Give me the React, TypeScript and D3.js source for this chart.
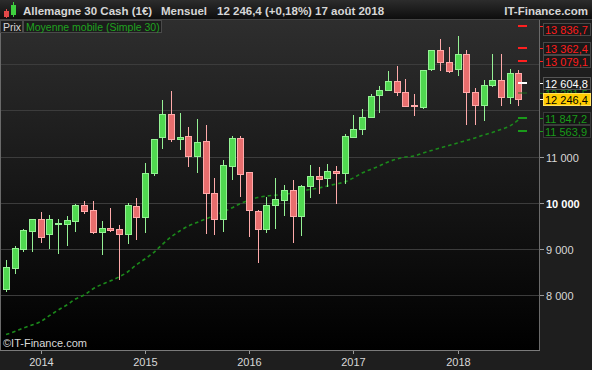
import * as d3 from "d3";

// monthly candles, Sep 2013 -> Aug 2018
const months = [
  "2013-09", "2013-10", "2013-11", "2013-12",
  "2014-01", "2014-02", "2014-03", "2014-04", "2014-05", "2014-06", "2014-07", "2014-08", "2014-09", "2014-10", "2014-11", "2014-12",
  "2015-01", "2015-02", "2015-03", "2015-04", "2015-05", "2015-06", "2015-07", "2015-08", "2015-09", "2015-10", "2015-11", "2015-12",
  "2016-01", "2016-02", "2016-03", "2016-04", "2016-05", "2016-06", "2016-07", "2016-08", "2016-09", "2016-10", "2016-11", "2016-12",
  "2017-01", "2017-02", "2017-03", "2017-04", "2017-05", "2017-06", "2017-07", "2017-08", "2017-09", "2017-10", "2017-11", "2017-12",
  "2018-01", "2018-02", "2018-03", "2018-04", "2018-05", "2018-06", "2018-07", "2018-08",
];
const opens = [
  8143, 8597, 9009, 9398,
  9645, 9320, 9550, 9550, 9615, 9948, 9840, 9377, 9463, 9428, 9320, 9926,
  9688, 10641, 11420, 11918, 11390, 11441, 11009, 11333, 10208, 9645, 10792, 11398,
  10662, 9818, 9428, 9948, 10056, 10273, 9710, 10359, 10576, 10532, 10684, 10641,
  11420, 11593, 11853, 12329, 12437, 12632, 12394, 12110, 12069, 12892, 13303, 13043,
  12892, 13216, 12394, 12113, 12545, 12654, 12286, 12805,
];
const highs = [
  8764, 9067, 9435, 9645,
  9803, 9738, 9645, 9716, 9976, 10035, 10035, 9602, 9883, 9515, 9991, 10100,
  10857, 11377, 12227, 12422, 11946, 11636, 11810, 11680, 10532, 10922, 11441, 11441,
  10662, 9840, 10121, 10532, 10387, 10489, 10380, 10820, 10777, 10842, 10799, 11485,
  11903, 12026, 12351, 12524, 12848, 12957, 12675, 12351, 12870, 13303, 13548, 13368,
  13612, 13303, 12481, 12654, 13216, 13216, 12892, 12870,
];
const lows = [
  8078, 8461, 8944, 8944,
  9139, 9009, 8900, 9074, 9377, 9753, 9333, 8879, 9360, 8338, 9117, 9203,
  9355, 10589, 11173, 11325, 11145, 10784, 10641, 9320, 9299, 9377, 10489, 10121,
  9255, 8693, 9342, 9428, 9723, 9139, 9290, 10100, 10186, 10338, 9970, 10403,
  11420, 11470, 11831, 11939, 12415, 12307, 12070, 11874, 12026, 12848, 12848, 12805,
  12740, 11693, 11693, 11780, 12502, 12104, 12130, 12104,
];
const closes = [
  8606, 9017, 9407, 9645,
  9268, 9645, 9570, 9623, 9948, 9831, 9377, 9450, 9420, 9320, 9948, 9688,
  10641, 11377, 11918, 11390, 11425, 11009, 11312, 10208, 9645, 10814, 11398, 10619,
  9840, 9428, 9948, 10078, 10273, 9710, 10359, 10576, 10511, 10684, 10641, 11441,
  11593, 11853, 12307, 12437, 12632, 12394, 12091, 12091, 12870, 13303, 13043, 12848,
  13216, 12394, 12113, 12545, 12654, 12286, 12805, 12246.4,
];
// moyenne mobile simple 30
const ma30 = [
  7151, 7216, 7292, 7357,
  7433, 7560, 7680, 7790, 7920, 8006, 8136, 8234, 8310, 8396, 8504, 8656,
  8786, 8926, 9100, 9262, 9392, 9500, 9576, 9652, 9727, 9803, 9890, 9987,
  10063, 10117, 10149, 10165, 10182, 10214, 10247, 10290, 10323, 10366, 10409, 10452,
  10539, 10647, 10723, 10799, 10885, 10950, 10994, 11015, 11080, 11134, 11188, 11242,
  11297, 11351, 11405, 11470, 11524, 11589, 11664, 11794,
];

const yearTicks = ["2014-01", "2015-01", "2016-01", "2017-01", "2018-01"];
const gridValues = [8000, 9000, 10000, 11000, 12000, 13000];
const axisValues = [8000, 9000, 10000, 11000];
const axisLabels = ["8 000", "9 000", "10 000", "11 000"];

const levelValues = [12381.5, 13836.7, 13362.4, 13079.1, 12604.8, 12246.4, 11847.2, 11563.9];
const levelLabels = ["12 381,5", "13 836,7", "13 362,4", "13 079,1", "12 604,8", "12 246,4", "11 847,2", "11 563,9"];
const levelKinds = ["pivot", "res", "res", "res", "last", "close", "sup", "sup"];

const W = 592;
const H = 370;
const plotL = 1;
const plotR = 539;
const plotT = 20;
const plotB = 350;
const FONT = "'Liberation Sans', Arial, sans-serif";

const UP_FILL = "#50d850";
const UP_LINE = "#95f295";
const DN_FILL = "#e86e6e";
const DN_LINE = "#ffaaaa";

const levelStyle: Record<string, { text: string; bg: string; border: string; mark: string; markW: number }> = {
  res: { text: "#ff1c1c", bg: "#191919", border: "#484848", mark: "#ff2020", markW: 2 },
  last: { text: "#ffffff", bg: "#1f1f1f", border: "#555555", mark: "#ffffff", markW: 2 },
  pivot: { text: "#1d8f1d", bg: "#161616", border: "#3a3a3a", mark: "#1d6f1d", markW: 1 },
  close: { text: "#000000", bg: "#ffcc00", border: "#ffe060", mark: "#ffffff", markW: 1 },
  sup: { text: "#1a9a1a", bg: "#141414", border: "#3a3a3a", mark: "#1a9a1a", markW: 2 },
};

function Candles({ x, y }: { x: d3.ScalePoint<string>; y: d3.ScaleLinear<number, number> }) {
  return (
    <g>
      {months.map((m, i) => {
        const cx = Math.round(x(m) ?? 0);
        const up = closes[i] >= opens[i];
        const top = Math.round(y(Math.max(opens[i], closes[i])));
        const bot = Math.round(y(Math.min(opens[i], closes[i])));
        const h = Math.max(bot - top, 0);
        return (
          <g key={m}>
            <line
              x1={cx + 0.5}
              x2={cx + 0.5}
              y1={Math.round(y(highs[i]))}
              y2={Math.round(y(lows[i]))}
              stroke={up ? UP_LINE : DN_LINE}
              strokeWidth={1}
            />
            <rect
              x={cx - 3 + 0.5}
              y={top + 0.5}
              width={6}
              height={h}
              fill={up ? UP_FILL : DN_FILL}
              stroke={up ? UP_LINE : DN_LINE}
              strokeWidth={1}
            />
          </g>
        );
      })}
    </g>
  );
}

export default function App() {
  const x = d3.scalePoint<string>().domain(months).range([6, 518.3]);
  const y = d3.scaleLinear().domain([8000, 13000]).range([295.3, 64.3]);

  const maLine = d3
    .line<number>()
    .x((_, i) => x(months[i]) ?? 0)
    .y((d) => y(d))
    .curve(d3.curveMonotoneX);

  return (
    <div style={{ position: "absolute", left: 0, top: 0 }}>
      <svg width={W} height={H} style={{ display: "block", fontFamily: FONT }}>
        <defs>
          <linearGradient id="plotBg" x1="0" y1="0" x2="0" y2="1">
            <stop offset="0%" stopColor="#2e2e2e" />
            <stop offset="100%" stopColor="#000000" />
          </linearGradient>
          <linearGradient id="headBg" x1="0" y1="0" x2="0" y2="1">
            <stop offset="0%" stopColor="#2c2c2c" />
            <stop offset="100%" stopColor="#0c0c0c" />
          </linearGradient>
          <clipPath id="plotClip">
            <rect x={plotL} y={plotT} width={plotR - plotL} height={plotB - plotT} />
          </clipPath>
        </defs>

        {/* panels */}
        <rect x={0} y={0} width={W} height={H} fill="#1e1e1e" />
        <rect x={plotL} y={plotT} width={plotR - plotL} height={plotB - plotT} fill="url(#plotBg)" />

        {/* grid */}
        {gridValues.map((v) => (
          <line key={v} x1={plotL} x2={plotR} y1={Math.round(y(v)) + 0.5} y2={Math.round(y(v)) + 0.5} stroke="#3c3c3c" />
        ))}

        <g clipPath="url(#plotClip)">
          <path d={maLine(ma30) ?? ""} fill="none" stroke="#1b8a1b" strokeWidth={1.6} strokeDasharray="3.5,3" />
          <Candles x={x} y={y} />
          {/* level markers */}
          {levelValues.map((v, i) => {
            const s = levelStyle[levelKinds[i]];
            if (levelKinds[i] === "close") return null;
            return (
              <rect key={i} x={518} y={Math.round(y(v)) - s.markW / 2} width={9} height={s.markW} fill={s.mark} />
            );
          })}
        </g>

        {/* borders */}
        <line x1={plotL - 0.5} x2={plotL - 0.5} y1={plotT} y2={plotB} stroke="#6a6a6a" />
        <line x1={plotR + 0.5} x2={plotR + 0.5} y1={plotT} y2={plotB} stroke="#6a6a6a" />
        <line x1={0} x2={plotR + 1} y1={plotB + 0.5} y2={plotB + 0.5} stroke="#7a7a7a" />

        <text x={3} y={347} fontSize={11} fill="#d8d8d8">
          ©IT-Finance.com
        </text>

        {/* x axis */}
        {yearTicks.map((m) => {
          const px = Math.round(x(m) ?? 0) + 0.5;
          return (
            <g key={m}>
              <line x1={px} x2={px} y1={plotB + 1} y2={plotB + 4} stroke="#9a9a9a" />
              <text x={px} y={366} fontSize={11} fill="#d8d8d8" textAnchor="middle">
                {m.slice(0, 4)}
              </text>
            </g>
          );
        })}

        {/* y axis */}
        {axisValues.map((v, i) => {
          const py = Math.round(y(v)) + 0.5;
          return (
            <g key={v}>
              <line x1={plotR + 1} x2={plotR + 5} y1={py} y2={py} stroke="#9a9a9a" />
              <text
                x={546}
                y={py + 4}
                fontSize={11}
                fill={v === 10000 ? "#ffffff" : "#d8d8d8"}
                fontWeight={v === 10000 ? "bold" : "normal"}
              >
                {axisLabels[i]}
              </text>
            </g>
          );
        })}

        {/* level labels */}
        {levelValues.map((v, i) => {
          const s = levelStyle[levelKinds[i]];
          const vy = y(v);
          const ly = Math.max(vy, 29);
          return (
            <g key={levelLabels[i]}>
              <line x1={plotR + 1} x2={plotR + 5} y1={Math.round(vy) + 0.5} y2={Math.round(vy) + 0.5} stroke={s.mark} />
              <rect x={543.5} y={Math.round(ly) - 5.5} width={47} height={12} fill={s.bg} stroke={s.border} />
              <text x={545} y={Math.round(ly) + 4.5} fontSize={11} fill={s.text}>
                {levelLabels[i]}
              </text>
            </g>
          );
        })}

        {/* header */}
        <rect x={0} y={0} width={W} height={20} fill="url(#headBg)" />
        <line x1={0} x2={W} y1={19.5} y2={19.5} stroke="#444" />
        <line x1={6.5} x2={6.5} y1={9} y2={18} stroke="#e04848" />
        <rect x={4} y={11} width={5} height={6} fill="#e04848" />
        <line x1={13.5} x2={13.5} y1={2} y2={17} stroke="#3fcf3f" />
        <rect x={11} y={5} width={5} height={10} fill="#3fcf3f" />
        <g fontSize={11.5} fontWeight="bold" fill="#d6d6d6">
          <text x={23} y={15}>Allemagne 30 Cash (1€)</text>
          <text x={161} y={15}>Mensuel</text>
          <text x={217} y={15}>12 246,4 (+0,18%)</text>
          <text x={315} y={15}>17 août 2018</text>
          <text x={588} y={15} textAnchor="end">IT-Finance.com</text>
        </g>

        {/* legend */}
        <rect x={0.5} y={20.5} width={22} height={12} fill="#1c1c1c" stroke="#4a4a4a" />
        <text x={3} y={30.5} fontSize={10.5} fill="#d8d8d8">Prix</text>
        <rect x={23.5} y={20.5} width={138} height={12} fill="#1c1c1c" stroke="#4a4a4a" />
        <text x={26} y={30.5} fontSize={10.5} fill="#1fa31f">Moyenne mobile (Simple 30)</text>
      </svg>
    </div>
  );
}
